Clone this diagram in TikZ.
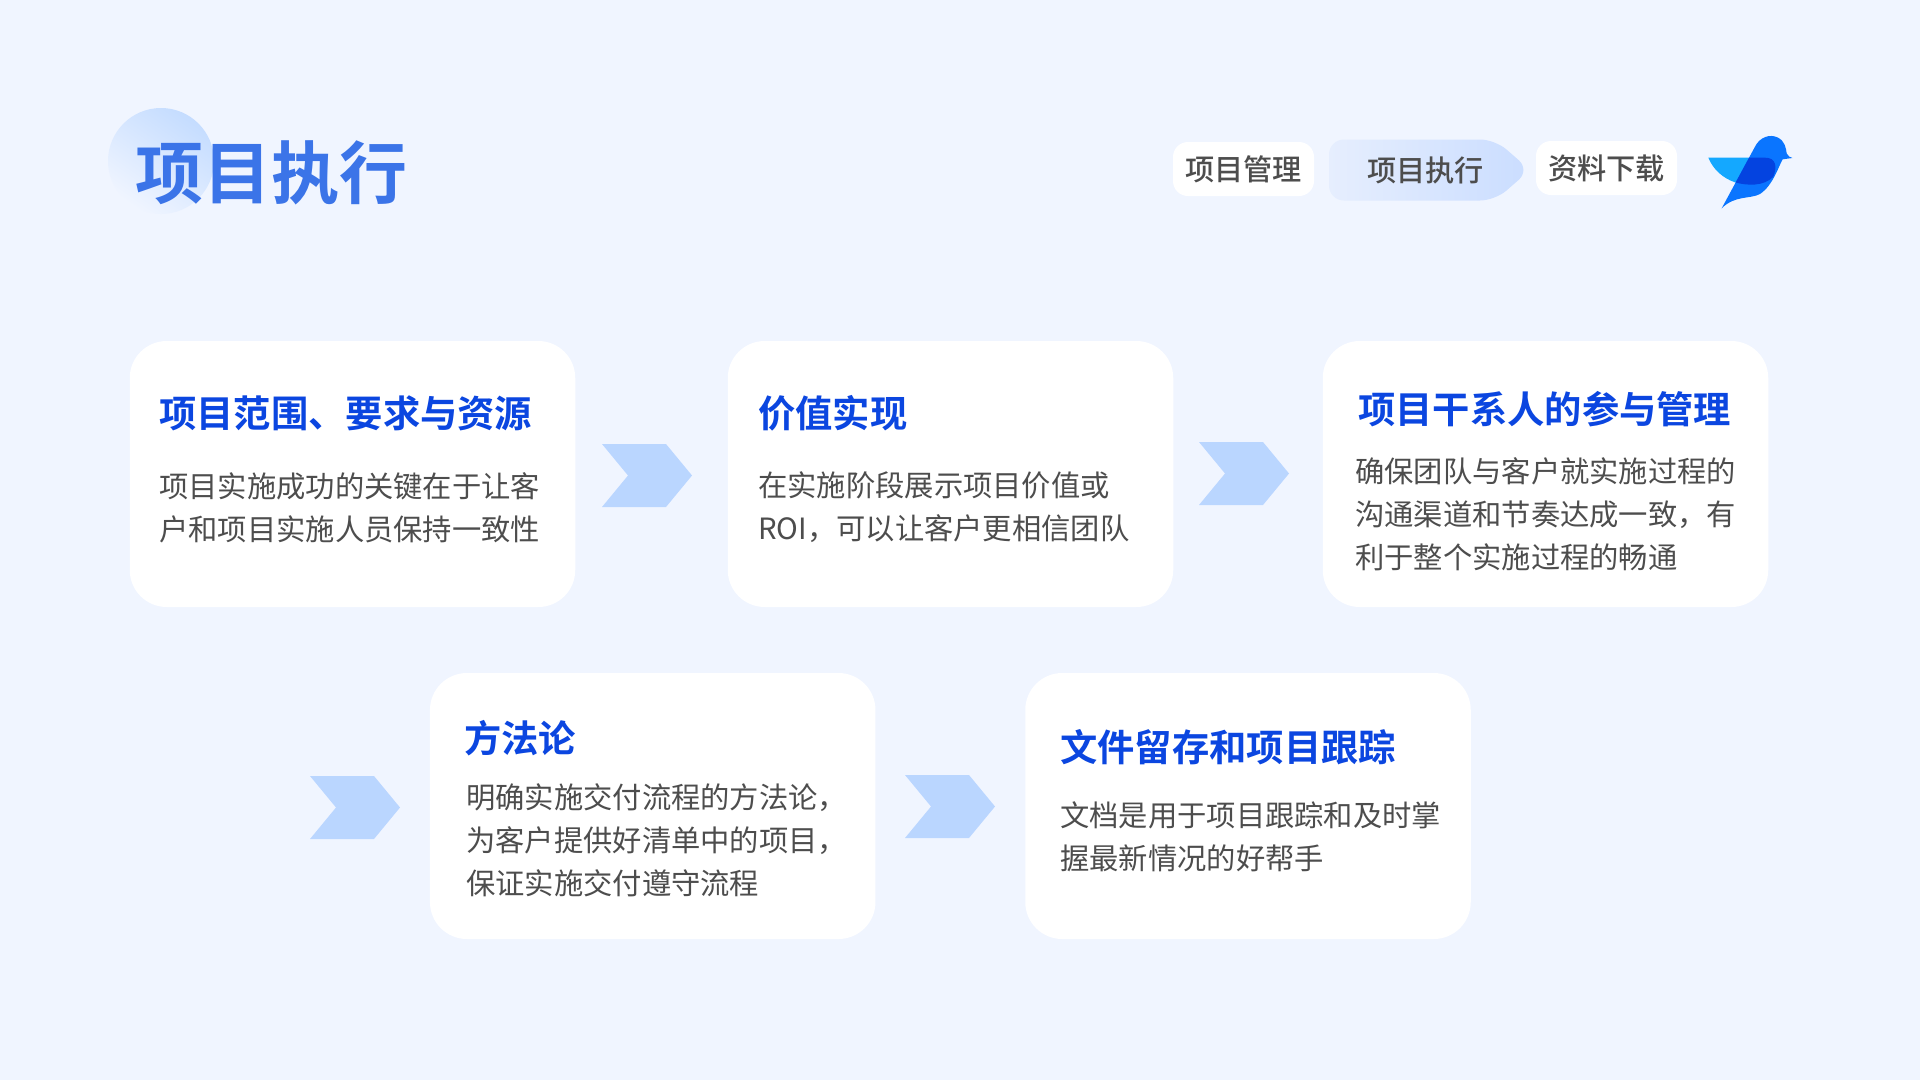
\documentclass[tikz,border=0pt]{standalone}
\usepackage{fontspec}
\setmainfont{Noto Sans CJK SC}[BoldFont={Noto Sans CJK SC Bold}]
\newfontfamily\navfont{Noto Sans CJK SC Medium}
\definecolor{pagebg}{HTML}{F0F5FF}
\definecolor{titleblue}{HTML}{3B74E8}
\definecolor{headblue}{HTML}{0B46E0}
\definecolor{bodygrey}{HTML}{4D4D4D}
\definecolor{chevblue}{HTML}{BAD6FF}
\definecolor{navleft}{HTML}{E6EEFE}
\definecolor{navright}{HTML}{CADDFF}
\definecolor{birdbody}{HTML}{0A75FF}
\definecolor{birdwing}{HTML}{14A8FF}
\definecolor{birdover}{HTML}{0443E0}
\tikzset{
    cardbox/.style={fill=white, rounded corners=37pt, minimum width=445.5pt, minimum height=266pt, inner sep=0pt},
    navbox/.style={fill=white, rounded corners=15pt, minimum width=141pt, minimum height=54pt, inner sep=0pt, text=bodygrey, font=\navfont\fontsize{29.2}{32}\selectfont},
    headtext/.style={anchor=west, inner sep=0pt, text=headblue, font=\fontsize{37.3}{44}\selectfont\bfseries},
    bodytext/.style={anchor=west, inner sep=0pt, align=left, text=bodygrey, font=\fontsize{29.3}{43}\selectfont},
}
\begin{document}
\begin{tikzpicture}[x=1pt, y=-1pt]
    \useasboundingbox[fill=pagebg] (0,0) rectangle (1920,1080);
    % title
    \shade[left color=chevblue!85!white, right color=pagebg, shading angle=-35] (161,161) circle (53);
    \node[anchor=west, inner sep=0pt, text=titleblue, font=\fontsize{68}{70}\selectfont\bfseries] (title) at (135,173) {项目执行};
    % nav
    \node[navbox] (nav1) at (1243.5,169) {项目管理};
    \shade[left color=navleft, right color=navright, rounded corners=15pt] (1329,139.5) -- (1495,139.5) -- (1530,170) -- (1495,200.5) -- (1329,200.5) -- cycle;
    \node[text=bodygrey, font=\navfont\fontsize{29.2}{32}\selectfont, inner sep=0pt] (nav2) at (1425.5,170) {项目执行};
    \node[navbox] (nav3) at (1606.5,168) {资料下载};
    % bird
    \begin{scope}[shift={(1690,120)}, x=0.3333pt, y=-0.3333pt]
        \fill[birdwing] (55,113) -- (225,113) .. controls (258,113) and (262,140) .. (250,170) .. controls (222,200) and (170,197) .. (135,187) .. controls (100,175) and (70,150) .. (55,113) -- cycle;
        \fill[birdbody] (95,265) -- (195,80) .. controls (210,50) and (240,42) .. (262,52) .. controls (285,62) and (288,85) .. (290,100) .. controls (293,108) and (300,112) .. (307,114) -- (278,118) .. controls (265,140) and (250,195) .. (210,222) .. controls (180,238) and (135,225) .. (95,265) -- cycle;
        \begin{scope}
            \clip (95,265) -- (195,80) .. controls (210,50) and (240,42) .. (262,52) .. controls (285,62) and (288,85) .. (290,100) .. controls (293,108) and (300,112) .. (307,114) -- (278,118) .. controls (265,140) and (250,195) .. (210,222) .. controls (180,238) and (135,225) .. (95,265) -- cycle;
            \fill[birdover] (55,113) -- (225,113) .. controls (258,113) and (262,140) .. (250,170) .. controls (222,200) and (170,197) .. (135,187) .. controls (100,175) and (70,150) .. (55,113) -- cycle;
        \end{scope}
    \end{scope}
    % cards
    \node[cardbox] (card1) at (352.5,474) {};
    \node[cardbox] (card2) at (950.5,474) {};
    \node[cardbox] (card3) at (1545.5,474) {};
    \node[cardbox] (card4) at (652.7,806) {};
    \node[cardbox] (card5) at (1248,806) {};
    % chevrons
    \foreach \cx/\cy in {602/444, 1199/442, 310/776, 905/775}
        \fill[chevblue] (\cx,\cy) -- (\cx+64,\cy) -- (\cx+90,\cy+31.5) -- (\cx+64,\cy+63) -- (\cx,\cy+63) -- (\cx+26,\cy+31.5) -- cycle;
    % texts
    \node[headtext] (head1) at (159,413) {项目范围、要求与资源};
    \node[bodytext] (body1) at (159,507.5) {项目实施成功的关键在于让客\\户和项目实施人员保持一致性};
    \node[headtext] (head2) at (758,413) {价值实现};
    \node[bodytext] (body2) at (758,507.5) {在实施阶段展示项目价值或\\ROI，可以让客户更相信团队};
    \node[headtext] (head3) at (1358,409) {项目干系人的参与管理};
    \node[bodytext] (body3) at (1355,514) {确保团队与客户就实施过程的\\沟通渠道和节奏达成一致，有\\利于整个实施过程的畅通};
    \node[headtext] (head4) at (464,738) {方法论};
    \node[bodytext] (body4) at (466,840) {明确实施交付流程的方法论，\\为客户提供好清单中的项目，\\保证实施交付遵守流程};
    \node[headtext] (head5) at (1060,747) {文件留存和项目跟踪};
    \node[bodytext] (body5) at (1060,836.5) {文档是用于项目跟踪和及时掌\\握最新情况的好帮手};
\end{tikzpicture}
\end{document}
